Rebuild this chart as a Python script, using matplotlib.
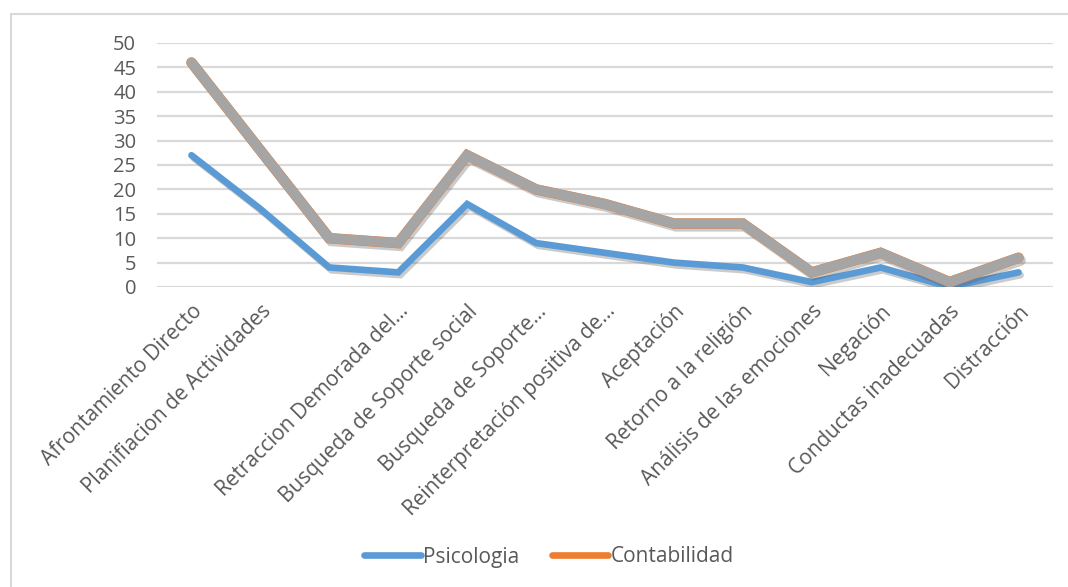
import matplotlib
matplotlib.use("Agg")
import matplotlib.pyplot as plt
import matplotlib.patheffects as pe
from matplotlib.lines import Line2D
from matplotlib.patches import Rectangle

categories = [
    "Afrontamiento Directo",
    "Planifiacion de Actividades",
    "",
    "Retraccion Demorada del…",
    "Busqueda de Soporte social",
    "Busqueda de Soporte…",
    "Reinterpretación positiva de…",
    "Aceptación",
    "Retorno a la religión",
    "Análisis de las emociones",
    "Negación",
    "Conductas inadecuadas",
    "Distracción",
]
psicologia = [27, 16, 4, 3, 17, 9, 7, 5, 4, 1, 4, 0, 3]
contabilidad = [19, 12, 6, 6, 10, 11, 10, 8, 9, 2, 3, 1, 3]
total = [p + c for p, c in zip(psicologia, contabilidad)]

TEXT = "#595959"
GRID = "#d9d9d9"
plt.rcParams["font.family"] = ["Open Sans", "DejaVu Sans"]

fig = plt.figure(figsize=(10.68, 5.87), dpi=100)
ax = fig.add_axes([157 / 1068, 1 - 287 / 587, (1053 - 157) / 1068, (287 - 43) / 587])

# chart-area border
fig.patches.append(Rectangle((11 / 1068, -0.1), 1.2, 1 - 14 / 587 + 0.1,
                             transform=fig.transFigure, fill=False,
                             edgecolor=GRID, lw=1.5))

x = list(range(len(categories)))
shadow = [pe.SimpleLineShadow(offset=(1.5, -2), shadow_color="#555555", alpha=0.3),
          pe.Normal()]

ax.plot(x, psicologia, color="#5b9bd5", lw=4.8, solid_capstyle="round",
        solid_joinstyle="miter", path_effects=shadow, zorder=3)
# Contabilidad is stacked on top of Psicologia, the total sits over it
ax.plot(x, total, color="#ed7d31", lw=7.6, solid_capstyle="round",
        solid_joinstyle="miter", path_effects=shadow, zorder=4)
ax.plot(x, total, color="#a5a5a5", lw=7.2, solid_capstyle="round",
        solid_joinstyle="miter", zorder=5)

ax.set_xlim(-0.5, len(categories) - 0.5)
ax.set_ylim(0, 50)
ax.set_yticks(range(0, 51, 5))
ax.yaxis.grid(True, color=GRID, lw=1.6)
ax.set_axisbelow(True)
for s in ax.spines.values():
    s.set_visible(False)
ax.tick_params(axis="both", length=0, colors=TEXT, labelsize=14.5)
ax.tick_params(axis="y", pad=15)
ax.set_xticks(x)
ax.set_xticklabels(categories, rotation=45, ha="right", va="top",
                   rotation_mode="anchor", fontsize=15)
ax.tick_params(axis="x", pad=10)

handles = [Line2D([], [], color="#5b9bd5", lw=4.8, solid_capstyle="round"),
           Line2D([], [], color="#ed7d31", lw=4.8, solid_capstyle="round")]
fig.legend(handles, ["Psicologia", "Contabilidad"], loc="center",
           bbox_to_anchor=(549 / 1068, 1 - 557 / 587), ncol=2, frameon=False,
           fontsize=15, labelcolor=TEXT, handlelength=2.7, handletextpad=0.1,
           columnspacing=1.6)

fig.savefig("out.png", dpi=100)
